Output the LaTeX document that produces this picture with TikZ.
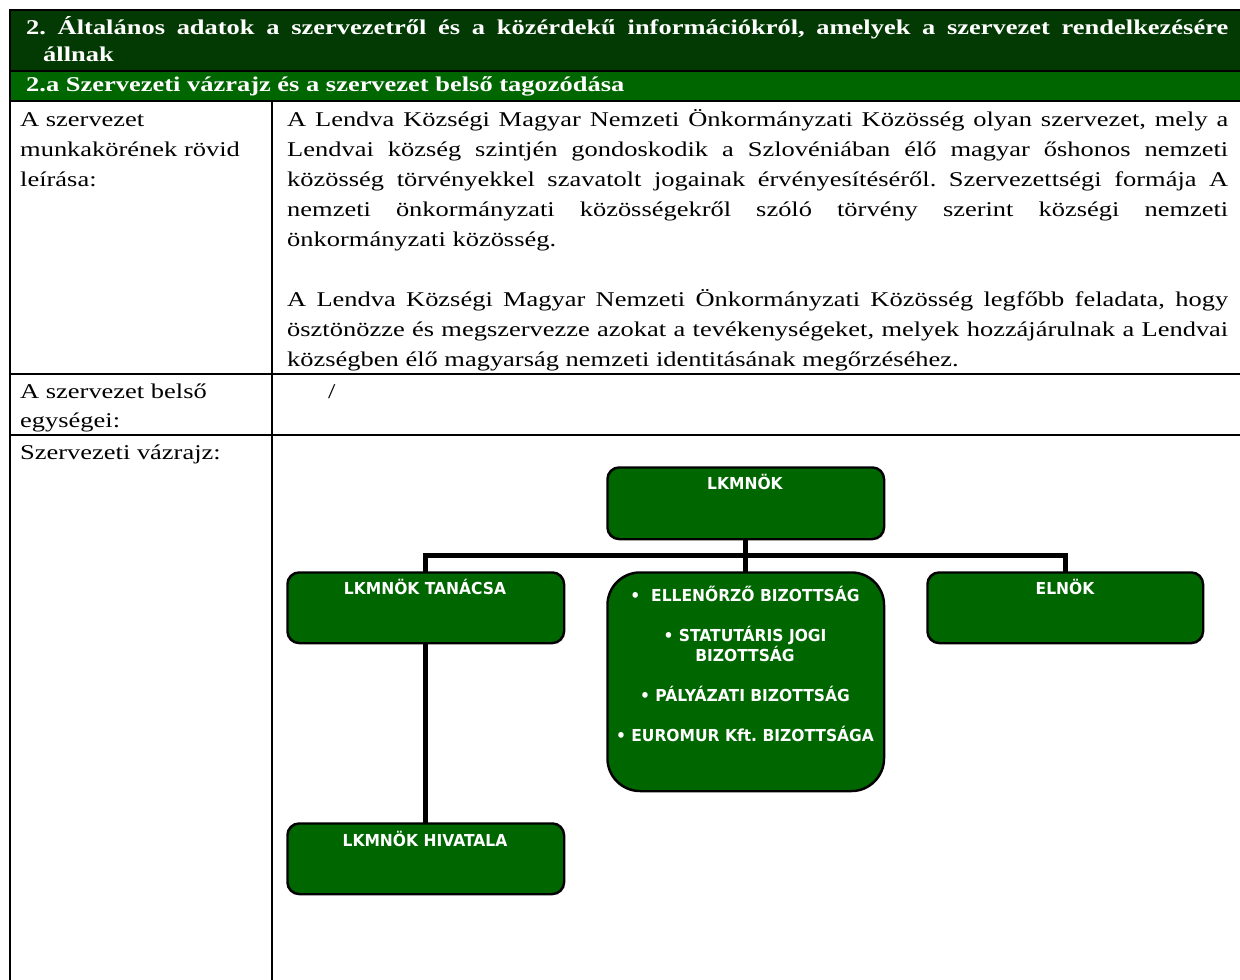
\documentclass[tikz,border=0pt]{standalone}
\usepackage{fontspec}
\setmainfont{Liberation Serif}[FakeStretch=1.26]
\newfontfamily\chartfont{DejaVu Sans}[FakeStretch=0.94]
\definecolor{darkband}{HTML}{033A03}
\definecolor{greenband}{HTML}{006600}
\frenchspacing
\begin{document}
\begin{tikzpicture}[x=1pt,y=-1pt,
  body/.style={anchor=base west, inner sep=0, font=\fontsize{21}{30}\selectfont},
  head/.style={anchor=base west, inner sep=0, text=white, font=\fontsize{21}{30}\selectfont\bfseries},
  orgbox/.style={draw=black, line width=1.5pt, fill=greenband, rounded corners=12pt, anchor=north west, inner sep=0},
  orgtext/.style={anchor=base, text=white, inner sep=0, font=\chartfont\bfseries\fontsize{16.5}{20}\selectfont},
  conn/.style={line width=5pt},
  rulethick/.style={line width=2pt},
  rulethin/.style={line width=1.5pt}]
\useasboundingbox (0,0) rectangle (1240,980);
\fill[white] (0,0) rectangle (1240,980);
% header bands
\fill[darkband] (10,10) rectangle (1240,71);
\fill[greenband] (10,71) rectangle (1240,101);
% table rules
\draw[rulethick] (9,10) -- (1240,10);
\draw[rulethin] (10,71) -- (1240,71);
\draw[rulethick] (10,101) -- (1240,101);
\draw[rulethick] (10,374) -- (1240,374);
\draw[rulethick] (10,435) -- (1240,435);
\draw[rulethick] (10,9) -- (10,980);
\draw[rulethick] (272,101) -- (272,980);
% header text
\node[head] (h1) at (26,34) {\makebox[1202pt][s]{2. Általános adatok a szervezetről és a közérdekű információkról, amelyek a szervezet rendelkezésére}};
\node[head] (h2) at (43,61) {állnak};
\node[head] (h3) at (26,91) {2.a Szervezeti vázrajz és a szervezet belső tagozódása};
% left column
\node[body] (l1) at (20,126) {A szervezet};
\node[body] (l2) at (20,156) {munkakörének rövid};
\node[body] (l3) at (20,186) {leírása:};
\node[body] (l4) at (20,398) {A szervezet belső};
\node[body] (l5) at (20,427) {egységei:};
\node[body] (l6) at (20,459) {Szervezeti vázrajz:};
% right column text
\node[body] (p1) at (287,126) {\makebox[941pt][s]{A Lendva Községi Magyar Nemzeti Önkormányzati Közösség olyan szervezet, mely a}};
\node[body] (p2) at (287,156) {\makebox[941pt][s]{Lendvai község szintjén gondoskodik a Szlovéniában élő magyar őshonos nemzeti}};
\node[body] (p3) at (287,186) {\makebox[941pt][s]{közösség törvényekkel szavatolt jogainak érvényesítéséről. Szervezettségi formája A}};
\node[body] (p4) at (287,216) {\makebox[941pt][s]{nemzeti önkormányzati közösségekről szóló törvény szerint községi nemzeti}};
\node[body] (p5) at (287,246) {önkormányzati közösség.};
\node[body] (q1) at (287,306) {\makebox[941pt][s]{A Lendva Községi Magyar Nemzeti Önkormányzati Közösség legfőbb feladata, hogy}};
\node[body] (q2) at (287,336) {\makebox[941pt][s]{ösztönözze és megszervezze azokat a tevékenységeket, melyek hozzájárulnak a Lendvai}};
\node[body] (q3) at (287,366) {községben élő magyarság nemzeti identitásának megőrzéséhez.};
\node[body] (slash) at (328,398) {/};
% org chart boxes
\coordinate (bus) at (745,555);
\node[orgbox, minimum width=276pt, minimum height=71pt] (top) at (607,467) {};
\node[orgbox, minimum width=276pt, minimum height=70pt] (tanacs) at (287,572) {};
\node[orgbox, rounded corners=33pt, minimum width=276pt, minimum height=218pt] (bizott) at (607,572) {};
\node[orgbox, minimum width=275pt, minimum height=70pt] (elnok) at (927,572) {};
\node[orgbox, minimum width=276pt, minimum height=70pt] (hivatal) at (287,823) {};
% connectors
\draw[conn] (tanacs.north) |- (bus) -| (elnok.north);
\draw[conn] (top.south) -- (bizott.north);
\draw[conn] (tanacs.south) -- (hivatal.north);
% redraw box borders over connector ends
\draw[line width=1.5pt, rounded corners=12pt] (top.north west) rectangle (top.south east);
\draw[line width=1.5pt, rounded corners=12pt] (tanacs.north west) rectangle (tanacs.south east);
\draw[line width=1.5pt, rounded corners=33pt] (bizott.north west) rectangle (bizott.south east);
\draw[line width=1.5pt, rounded corners=12pt] (elnok.north west) rectangle (elnok.south east);
\draw[line width=1.5pt, rounded corners=12pt] (hivatal.north west) rectangle (hivatal.south east);
% org chart text
\node[orgtext] (ttop) at (745,489) {LKMNÖK};
\node[orgtext] (ttanacs) at (425,594) {LKMNÖK TANÁCSA};
\node[orgtext] (telnok) at (1065,594) {ELNÖK};
\node[orgtext] (thivatal) at (425,846) {LKMNÖK HIVATALA};
\node[orgtext] (b1) at (745,601) {•\ \ ELLENŐRZŐ BIZOTTSÁG};
\node[orgtext] (b2) at (745,641) {• STATUTÁRIS JOGI};
\node[orgtext] (b3) at (745,661) {BIZOTTSÁG};
\node[orgtext] (b4) at (745,701) {• PÁLYÁZATI BIZOTTSÁG};
\node[orgtext] (b5) at (745,741) {• EUROMUR Kft. BIZOTTSÁGA};
\end{tikzpicture}
\end{document}
